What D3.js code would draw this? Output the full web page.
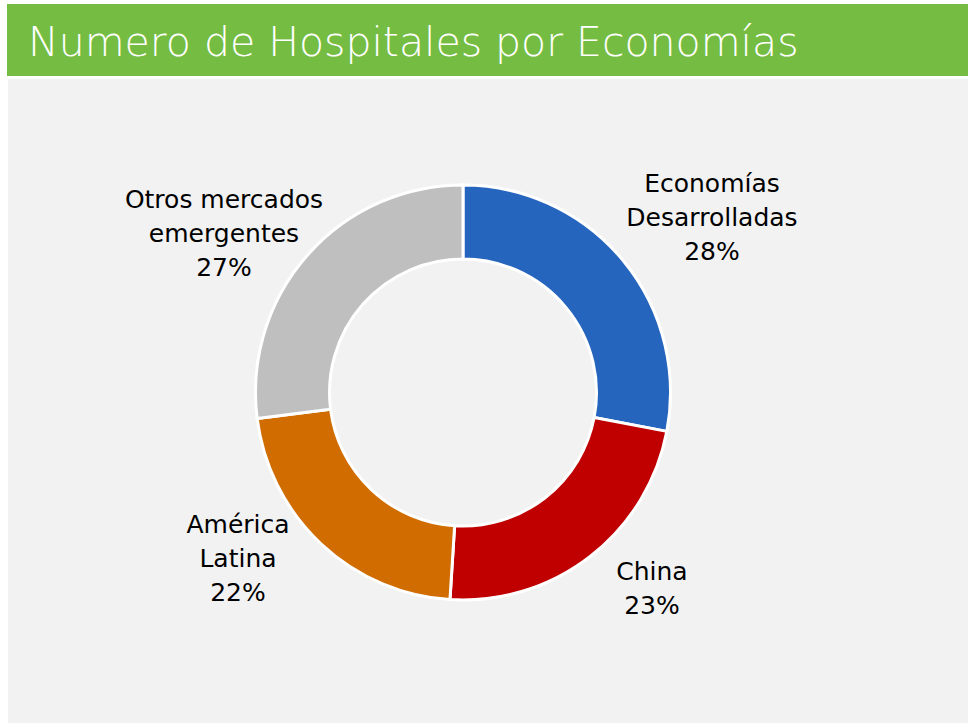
<!DOCTYPE html>
<html>
<head>
<meta charset="utf-8">
<script src="https://cdn.jsdelivr.net/npm/d3@7"></script>
<style>
  body { margin: 0; background: #FFFFFF; }
  svg text { font-family: "DejaVu Sans", sans-serif; }
</style>
</head>
<body>
<div id="vis_container"></div>
<script>
// data
var categories = ["Economías Desarrolladas", "China", "América Latina", "Otros mercados emergentes"];
var values = [28, 23, 22, 27];
var colors = ["#2565BE", "#C00000", "#D06C00", "#BFBFBF"];
var labelLines = [
	["Economías", "Desarrolladas", "28%"],
	["China", "23%"],
	["América", "Latina", "22%"],
	["Otros mercados", "emergentes", "27%"]
];
var labelPos = [[712, 192], [652, 580], [238, 533], [224, 208]];

var chart = {};
chart.width = 968;
chart.height = 723;
chart.cx = 463;
chart.cy = 392.5;
chart.outer = 207.5;
chart.inner = 133.5;

chart.svg = d3.select("#vis_container").append("svg")
	.attr("width", chart.width)
	.attr("height", chart.height);

// header bar
chart.svg.append("rect")
	.attr("x", 7).attr("y", 4)
	.attr("width", chart.width - 7).attr("height", 72)
	.attr("fill", "#75BD42");

chart.svg.append("text")
	.attr("x", 28).attr("y", 56)
	.attr("fill", "#FFFFFF")
	.style("font-size", "41px")
	.style("font-weight", 200)
	.text("Numero de Hospitales por Economías");

// panel
chart.svg.append("rect")
	.attr("x", 8).attr("y", 79)
	.attr("width", chart.width - 8).attr("height", chart.height - 79)
	.attr("fill", "#F2F2F2");

var pie = d3.pie().sort(null).value(function(d) { return d; });
var arc = d3.arc().innerRadius(chart.inner).outerRadius(chart.outer);

var g = chart.svg.append("g")
	.attr("transform", "translate(" + chart.cx + "," + chart.cy + ")");

g.selectAll(".slice")
	.data(pie(values))
	.enter().append("path")
	.attr("class", "slice")
	.attr("d", arc)
	.attr("fill", function(d, i) { return colors[i]; })
	.attr("stroke", "#FFFFFF")
	.attr("stroke-width", 3);

// labels
chart.svg.selectAll(".label")
	.data(labelLines)
	.enter().append("text")
	.attr("class", "label")
	.attr("text-anchor", "middle")
	.attr("fill", "#000000")
	.style("font-size", "25px")
	.each(function(lines, i) {
		var t = d3.select(this);
		lines.forEach(function(line, j) {
			t.append("tspan")
				.attr("x", labelPos[i][0])
				.attr("y", labelPos[i][1] + j * 34)
				.text(line);
		});
	});
</script>
</body>
</html>
